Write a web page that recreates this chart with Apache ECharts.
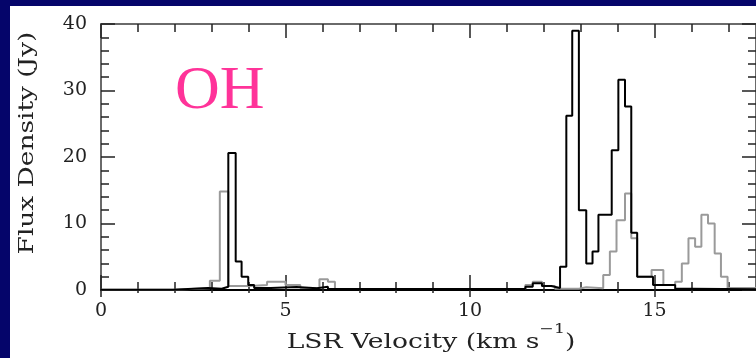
<!DOCTYPE html>
<html>
<head>
<meta charset="utf-8">
<script src="https://cdn.jsdelivr.net/npm/echarts@6/dist/echarts.min.js"></script>
<style>
  html, body { margin: 0; padding: 0; background: #05056a; }
  #chart { width: 756px; height: 358px; }
</style>
</head>
<body>
<div id="chart"></div>
<script>
// OH maser spectrum: two polarisations as stepped histograms.
// Each point is [channel start velocity (km/s), flux density (Jy)].
const blackVel  = [0.0, 1.95, 2.9, 3.27, 3.45, 3.65, 3.81, 3.99, 4.15, 4.6, 5.3, 5.85, 6.15, 11.5, 11.7, 11.95, 12.2, 12.44, 12.61, 12.77, 12.95, 13.15, 13.32, 13.48, 13.84, 14.02, 14.2, 14.37, 14.53, 14.96, 15.56, 16.0, 17.75];
const blackFlux = [0.05, 0.3, 0.2, 0.5, 20.6, 4.3, 2.0, 0.75, 0.3, 0.45, 0.25, 0.5, 0.15, 0.5, 1.0, 0.6, 0.3, 3.5, 26.2, 39.0, 12.0, 4.0, 5.8, 11.3, 21.0, 31.6, 27.6, 8.6, 2.0, 0.75, 0.2, 0.1, 0.1];

const grayVel  = [0.0, 1.95, 2.95, 3.22, 3.45, 4.05, 4.5, 5.0, 5.4, 5.92, 6.15, 6.34, 11.5, 11.7, 11.95, 12.3, 12.95, 13.15, 13.61, 13.79, 13.97, 14.2, 14.37, 14.53, 14.92, 15.24, 15.56, 15.74, 15.92, 16.1, 16.27, 16.45, 16.63, 16.8, 16.98, 17.75];
const grayFlux = [0.05, 0.25, 1.4, 14.8, 0.6, 0.75, 1.25, 0.75, 0.3, 1.6, 1.25, 0.15, 0.75, 1.25, 0.6, 0.2, 0.4, 0.25, 2.25, 5.8, 10.5, 14.5, 7.8, 2.0, 3.0, 0.75, 1.25, 4.0, 7.8, 6.5, 11.3, 10.0, 5.5, 2.0, 0.3, 0.3];

const xMajorTicks = [0, 5, 10, 15];
const xMinorTicks = [1, 2, 3, 4, 6, 7, 8, 9, 11, 12, 13, 14, 16, 17];
const yMajorTicks = [0, 10, 20, 30, 40];
const yMinorTicks = [2, 4, 6, 8, 12, 14, 16, 18, 22, 24, 26, 28, 32, 34, 36, 38];

const X_MIN = 0, X_MAX = 17.75, Y_MIN = 0, Y_MAX = 40;

const pairs = (xs, ys) => xs.map((x, i) => [x, ys[i]]);

const tickFont = { fontFamily: 'DejaVu Serif', fontSize: 19, color: '#222' };
const frameLine = { show: true, onZero: false, lineStyle: { color: '#6a6a6a', width: 2 } };
const noLine = { show: false, onZero: false };

function xAx(position, ticks, len, inside, extra) {
  return Object.assign({
    type: 'value', position, min: X_MIN, max: X_MAX,
    axisLine: noLine,
    splitLine: { show: false },
    axisLabel: { show: false },
    axisTick: { show: true, customValues: ticks, inside, length: len, lineStyle: { color: '#222', width: 1.5 } }
  }, extra || {});
}
function yAx(position, ticks, len, extra) {
  return Object.assign({
    type: 'value', position, min: Y_MIN, max: Y_MAX,
    axisLine: noLine,
    splitLine: { show: false },
    axisLabel: { show: false },
    axisTick: { show: true, customValues: ticks, inside: true, length: len, lineStyle: { color: '#222', width: 1.5 } }
  }, extra || {});
}

const chart = echarts.init(document.getElementById('chart'));
chart.setOption({
  backgroundColor: '#05056a',
  animation: false,
  grid: { left: 101, top: 24, right: 0, bottom: 68 },
  graphic: [
    { type: 'rect', z: -100, silent: true,
      shape: { x: 10, y: 6, width: 746, height: 352 }, style: { fill: '#ffffff' } },
    { type: 'text', x: 175, y: 61, z: 10, silent: true,
      style: { text: 'OH', font: '62px "Liberation Serif"', fill: '#ff3399', verticalAlign: 'top' } },
    { type: 'text', x: 431, y: 338, scaleX: 1.33, z: 10, silent: true,
      style: {
        text: '{main|LSR Velocity (km s}{sup|−1}{main|)}',
        align: 'center', verticalAlign: 'middle',
        rich: {
          main: { fontFamily: 'DejaVu Serif', fontSize: 20, fill: '#222', lineHeight: 30, verticalAlign: 'bottom' },
          sup: { fontFamily: 'DejaVu Serif', fontSize: 13, fill: '#222', lineHeight: 13, verticalAlign: 'top' }
        }
      } },
    { type: 'text', x: 28, y: 143, rotation: Math.PI / 2, scaleX: 1.32, z: 10, silent: true,
      style: { text: 'Flux Density (Jy)', font: '20px "DejaVu Serif"', fill: '#222', align: 'center', verticalAlign: 'middle' } }
  ],
  xAxis: [
    xAx('bottom', xMajorTicks, 15, true, {
      axisLine: { show: true, onZero: false, lineStyle: { color: '#000', width: 2 } },
      axisLabel: Object.assign({ show: true, customValues: xMajorTicks, margin: 12 }, tickFont)
    }),
    xAx('bottom', xMinorTicks, 8, true),
    xAx('bottom', xMajorTicks, 7, false),
    xAx('bottom', xMinorTicks, 3, false),
    xAx('top', xMajorTicks, 14, true, { axisLine: frameLine }),
    xAx('top', xMinorTicks, 8, true)
  ],
  yAxis: [
    yAx('left', yMajorTicks, 14, {
      axisLine: frameLine,
      axisLabel: Object.assign({ show: true, customValues: yMajorTicks, margin: 14 }, tickFont)
    }),
    yAx('left', yMinorTicks, 8),
    yAx('right', yMajorTicks, 14, { axisLine: frameLine }),
    yAx('right', yMinorTicks, 8)
  ],
  series: [
    { name: 'gray', type: 'line', step: 'end', showSymbol: false, silent: true,
      data: pairs(grayVel, grayFlux), lineStyle: { color: '#9a9a9a', width: 2 }, z: 3 },
    { name: 'black', type: 'line', step: 'end', showSymbol: false, silent: true,
      data: pairs(blackVel, blackFlux), lineStyle: { color: '#000', width: 2 }, z: 4 }
  ]
});
</script>
</body>
</html>
